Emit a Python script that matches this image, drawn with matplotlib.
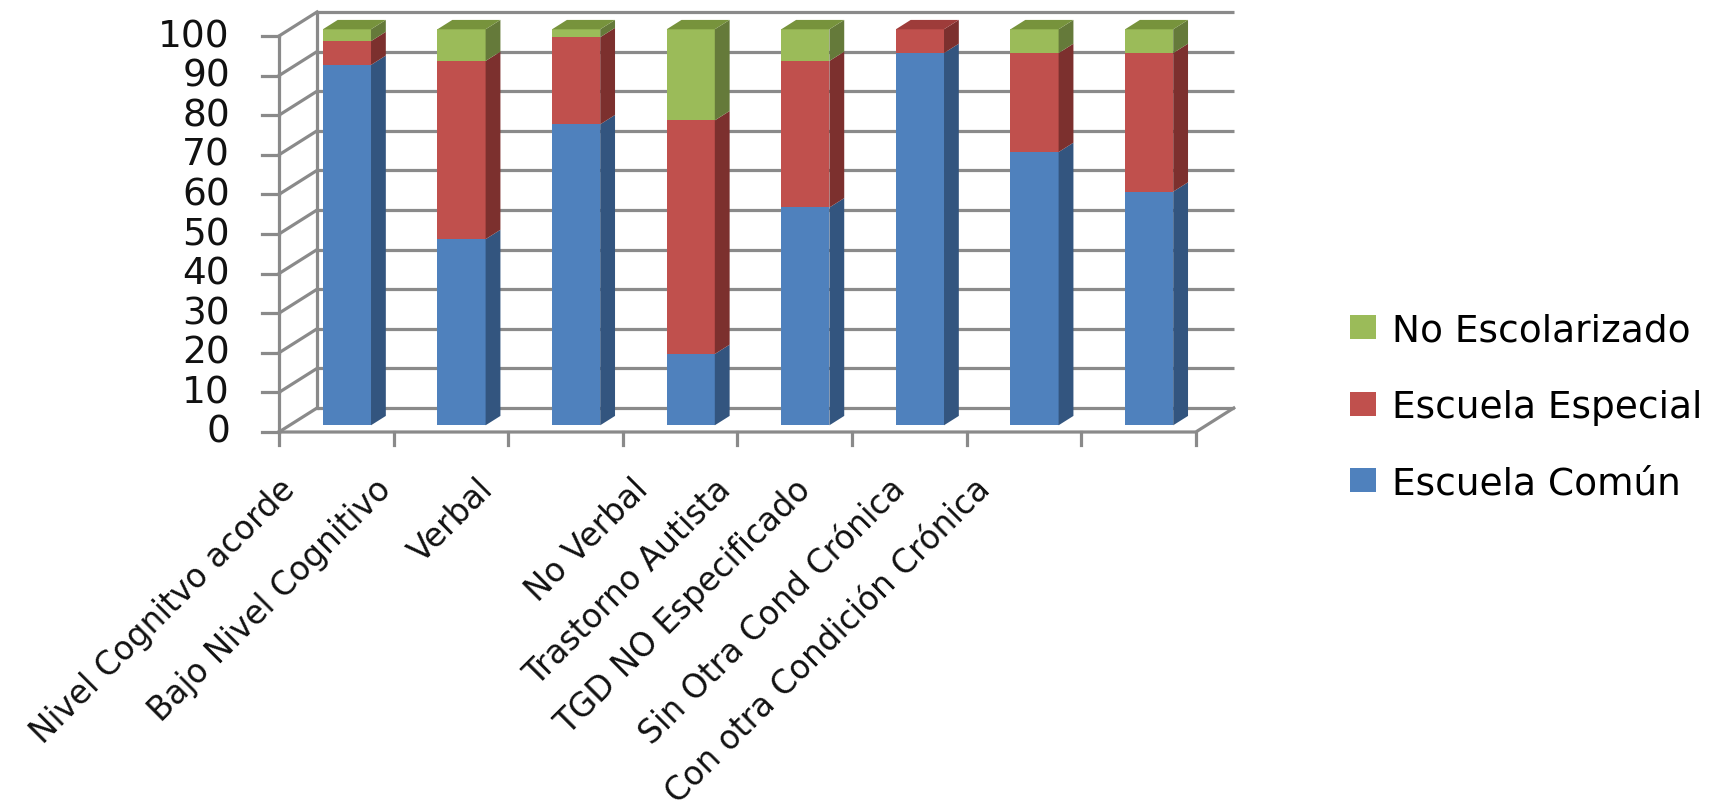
import matplotlib
matplotlib.use("Agg")
import matplotlib.pyplot as plt
from matplotlib.patches import Polygon, Patch

# ---------------- data ----------------
categories = ["Nivel Cognitvo acorde", "Bajo Nivel Cognitivo", "Verbal", "No Verbal",
              "Trastorno Autista", "TGD NO Especificado", "Sin Otra Cond Crónica",
              "Con otra Condición Crónica"]
escuela_comun = [91, 47, 76, 18, 55, 94, 69, 59]
escuela_especial = [6, 45, 22, 59, 37, 6, 25, 35]
no_escolarizado = [3, 8, 2, 23, 8, 0, 6, 6]
series_names = ["Escuela Común", "Escuela Especial", "No Escolarizado"]
y_ticks = [0, 10, 20, 30, 40, 50, 60, 70, 80, 90, 100]

# ---------------- style ----------------
front_cols = ["#4F81BD", "#C0504D", "#9BBB59"]
side_cols = ["#33557F", "#7C302E", "#657A3A"]
top_cols = ["#3F6A9C", "#9E3C3A", "#77933C"]
grid_col = "#8A8A8A"
FONT = "DejaVu Sans"

W, H = 1728, 812
fig = plt.figure(figsize=(W / 100, H / 100), dpi=100)
ax = fig.add_axes([0, 0, 1, 1])

# pixel layout of the front plane
PX_X0, PX_CAT, PX_Y0, PX_UNIT = 279, 114.6, 433, 3.96
ax.set_xlim(-PX_X0 / PX_CAT, (W - PX_X0) / PX_CAT)
ax.set_ylim((PX_Y0 - H) / PX_UNIT, PX_Y0 / PX_UNIT)
ax.axis("off")

DX = 38 / PX_CAT      # depth offset (category units)
DY = 24 / PX_UNIT     # depth offset (value units)
n = len(categories)
vmax = y_ticks[-1]


def proj(x, v, f):
    return (x + f * DX, v + f * DY)


lw = 2.3
# back wall gridlines + left wall diagonals
for t in y_ticks:
    p0, p1 = proj(0, t, 1), proj(n, t, 1)
    ax.plot([p0[0], p1[0]], [p0[1], p1[1]], color=grid_col, lw=lw, zorder=1,
            solid_capstyle="butt")
    q0, q1 = proj(0, t, 0), proj(0, t, 1)
    ax.plot([q0[0], q1[0]], [q0[1], q1[1]], color=grid_col, lw=lw, zorder=1)
# back wall left edge
b0, b1 = proj(0, 0, 1), proj(0, vmax, 1)
ax.plot([b0[0], b1[0]], [b0[1], b1[1]], color=grid_col, lw=lw, zorder=1)
# floor edges
f0, f1, f2 = proj(0, 0, 0), proj(n, 0, 0), proj(n, 0, 1)
ax.plot([f0[0], f1[0], f2[0]], [f0[1], f1[1], f2[1]], color=grid_col, lw=lw, zorder=1)
# front value axis
tick_x = 17 / PX_CAT
tick_v = 13 / PX_UNIT
ax.plot([0, 0], [0, vmax], color=grid_col, lw=lw, zorder=1)
for t in y_ticks:
    ax.plot([-tick_x, 0], [t, t], color=grid_col, lw=lw, zorder=1)
    ax.text(-49 / PX_CAT, t, str(t), ha="right", va="center", fontsize=27,
            family=FONT, color="#111111")
for i in range(n + 1):
    ax.plot([i, i], [0, -tick_v], color=grid_col, lw=lw, zorder=1)

# bars
BAR_W = 0.42
BF0, BF1 = 0.28, 0.67
series = [escuela_comun, escuela_especial, no_escolarizado]
for i in range(n):
    xl = i + (1 - BAR_W) / 2
    xr = xl + BAR_W
    vals = [s[i] for s in series]
    top_k = max(k for k in range(3) if vals[k] > 0)
    base = 0
    for k, v in enumerate(vals):
        if v <= 0:
            continue
        v0, v1 = base, base + v
        front = [proj(xl, v0, BF0), proj(xr, v0, BF0), proj(xr, v1, BF0), proj(xl, v1, BF0)]
        ax.add_patch(Polygon(front, closed=True, facecolor=front_cols[k],
                             edgecolor="none", zorder=3))
        side = [proj(xr, v0, BF0), proj(xr, v0, BF1), proj(xr, v1, BF1), proj(xr, v1, BF0)]
        ax.add_patch(Polygon(side, closed=True, facecolor=side_cols[k],
                             edgecolor="none", zorder=3))
        if k == top_k:
            top = [proj(xl, v1, BF0), proj(xr, v1, BF0), proj(xr, v1, BF1), proj(xl, v1, BF1)]
            ax.add_patch(Polygon(top, closed=True, facecolor=top_cols[k],
                                 edgecolor="none", zorder=3))
        base = v1

# category labels (rotated)
label_right_px = [302, 398, 500, 655, 738, 817, 912, 997]
for i, lab in enumerate(categories):
    ax.text((label_right_px[i] - PX_X0) / PX_CAT, (PX_Y0 - 473) / PX_UNIT, lab,
            rotation=45, ha="right", va="top", fontsize=23.5, family=FONT,
            color="#111111")

# legend
handles = [Patch(facecolor=front_cols[k], edgecolor="none") for k in (2, 1, 0)]
labels = [series_names[k] for k in (2, 1, 0)]
fig.legend(handles, labels, loc="center left",
           bbox_to_anchor=(1350 / W, 1 - 408 / H), frameon=False,
           prop={"family": FONT, "size": 27}, handlelength=0.7, handleheight=0.6,
           handletextpad=0.42, labelspacing=1.08, borderpad=0, borderaxespad=0)

fig.savefig("out.png", dpi=100, facecolor="white")
